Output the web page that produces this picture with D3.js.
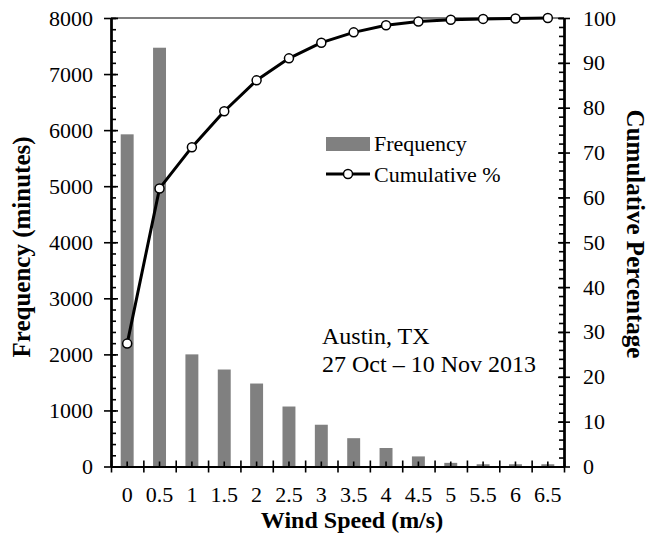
<!DOCTYPE html>
<html>
<head>
<meta charset="utf-8">
<script src="https://cdn.jsdelivr.net/npm/d3@7"></script>
<style>
    body { margin: 0; background: #fff; }
    svg text { font-family: "Liberation Serif", "Times New Roman", serif; fill: #000; }
</style>
</head>
<body>
<svg id="chart" width="648" height="538"></svg>
<script>
const speeds = ["0", "0.5", "1", "1.5", "2", "2.5", "3", "3.5", "4", "4.5", "5", "5.5", "6", "6.5"]
const frequency = [5925, 7470, 2000, 1730, 1480, 1070, 745, 505, 330, 180, 65, 40, 40, 40]
const cumulative = [27.4, 62.0, 71.2, 79.2, 86.1, 91.0, 94.5, 96.8, 98.4, 99.2, 99.6, 99.8, 99.9, 100]
const left_ticks = [0, 1000, 2000, 3000, 4000, 5000, 6000, 7000, 8000]
const right_ticks = [0, 10, 20, 30, 40, 50, 60, 70, 80, 90, 100]

const plot_left = 111
const plot_right = 564
const plot_top = 18
const plot_bottom = 466.5

const svg = d3.select("#chart")

const xBand = d3.scaleBand()
    .domain(speeds)
    .range([plot_left, plot_right])
    .paddingInner(0.6)
    .paddingOuter(0.3)
const xEdge = d3.scaleLinear().domain([0, speeds.length]).range([plot_left, plot_right])
const yLeft = d3.scaleLinear().domain([0, 8000]).range([plot_bottom, plot_top])
const yRight = d3.scaleLinear().domain([0, 100]).range([plot_bottom, plot_top])
const center = d => xBand(d) + xBand.bandwidth() / 2

// bars
svg.append("g")
    .selectAll("rect")
    .data(speeds.map((s, i) => [s, frequency[i]]))
    .join("rect")
        .attr("x", d => xBand(d[0]))
        .attr("y", d => yLeft(d[1]))
        .attr("width", xBand.bandwidth())
        .attr("height", d => yLeft(0) - yLeft(d[1]))
        .attr("fill", "#808080")

// top border
svg.append("line")
    .attr("x1", plot_left).attr("x2", plot_right)
    .attr("y1", plot_top).attr("y2", plot_top)
    .attr("stroke", "#000").attr("stroke-width", 1.2)

function style_axis(g, labels) {
    g.select(".domain").attr("stroke", "#000").attr("stroke-width", 2)
    g.selectAll(".tick line").attr("stroke", "#000").attr("stroke-width", 1.6)
    g.selectAll(".tick text")
        .attr("font-size", labels ? 22 : 0)
        .attr("font-family", "Liberation Serif, Times New Roman, serif")
        .attr("fill", "#000")
}

// left axis: outward major ticks + labels, inward minor and major ticks
svg.append("g")
    .attr("transform", "translate(" + plot_left + ",0)")
    .call(d3.axisLeft(yLeft).tickValues(left_ticks).tickFormat(d3.format("d")).tickSize(7).tickSizeOuter(0).tickPadding(11))
    .call(g => style_axis(g, true))
svg.append("g")
    .attr("transform", "translate(" + plot_left + ",0)")
    .call(d3.axisRight(yLeft).tickValues(d3.range(0, 8001, 200)).tickSize(5).tickSizeOuter(0).tickFormat(""))
    .call(g => style_axis(g, false))
svg.append("g")
    .attr("transform", "translate(" + plot_left + ",0)")
    .call(d3.axisRight(yLeft).tickValues(left_ticks).tickSize(7).tickSizeOuter(0).tickFormat(""))
    .call(g => style_axis(g, false))

// right axis
svg.append("g")
    .attr("transform", "translate(" + plot_right + ",0)")
    .call(d3.axisRight(yRight).tickValues(right_ticks).tickSize(6).tickSizeOuter(0).tickPadding(13))
    .call(g => style_axis(g, true))
svg.append("g")
    .attr("transform", "translate(" + plot_right + ",0)")
    .call(d3.axisLeft(yRight).tickValues(d3.range(0, 101, 2)).tickSize(5).tickSizeOuter(0).tickFormat(""))
    .call(g => style_axis(g, false))
svg.append("g")
    .attr("transform", "translate(" + plot_right + ",0)")
    .call(d3.axisLeft(yRight).tickValues(right_ticks).tickSize(6).tickSizeOuter(0).tickFormat(""))
    .call(g => style_axis(g, false))

// bottom axis: boundary ticks crossing, centre ticks inward, labels at centres
svg.append("g")
    .attr("transform", "translate(0," + plot_bottom + ")")
    .call(d3.axisBottom(xEdge).tickValues(d3.range(0, speeds.length + 1)).tickSize(6).tickSizeOuter(0).tickFormat(""))
    .call(g => style_axis(g, false))
svg.append("g")
    .attr("transform", "translate(0," + plot_bottom + ")")
    .call(d3.axisTop(xEdge).tickValues(d3.range(0, speeds.length + 1)).tickSize(6).tickSizeOuter(0).tickFormat(""))
    .call(g => style_axis(g, false))
svg.append("g")
    .attr("transform", "translate(0," + plot_bottom + ")")
    .call(d3.axisTop(xBand).tickSize(5).tickSizeOuter(0).tickFormat(""))
    .call(g => style_axis(g, false))
    .call(g => g.select(".domain").remove())
svg.append("g")
    .attr("transform", "translate(0," + plot_bottom + ")")
    .call(d3.axisBottom(xBand).tickSize(0).tickSizeOuter(0).tickPadding(20))
    .call(g => style_axis(g, true))
    .call(g => g.select(".domain").remove())

// cumulative line
const line = d3.line()
    .x((d, i) => center(speeds[i]))
    .y(d => yRight(d))
svg.append("path")
    .datum(cumulative)
    .attr("d", line)
    .attr("fill", "none")
    .attr("stroke", "#000")
    .attr("stroke-width", 3)
    .attr("stroke-linejoin", "round")
svg.append("g")
    .selectAll("circle")
    .data(cumulative)
    .join("circle")
        .attr("cx", (d, i) => center(speeds[i]))
        .attr("cy", d => yRight(d))
        .attr("r", 4.5)
        .attr("fill", "#fff")
        .attr("stroke", "#000")
        .attr("stroke-width", 1.5)

// axis titles
svg.append("text")
    .attr("transform", "translate(30,247) rotate(-90)")
    .attr("text-anchor", "middle")
    .attr("font-size", 25)
    .attr("font-weight", "bold")
    .attr("fill", "#000")
    .text("Frequency (minutes)")
svg.append("text")
    .attr("transform", "translate(627,234) rotate(90)")
    .attr("text-anchor", "middle")
    .attr("font-size", 25)
    .attr("font-weight", "bold")
    .attr("fill", "#000")
    .text("Cumulative Percentage")
svg.append("text")
    .attr("x", 352)
    .attr("y", 528)
    .attr("text-anchor", "middle")
    .attr("font-size", 24)
    .attr("font-weight", "bold")
    .attr("fill", "#000")
    .text("Wind Speed (m/s)")

// legend
const legend = svg.append("g").attr("transform", "translate(326,0)")
legend.append("rect")
    .attr("x", 0).attr("y", 137)
    .attr("width", 44).attr("height", 14)
    .attr("fill", "#808080")
legend.append("text")
    .attr("x", 48).attr("y", 151)
    .attr("font-size", 22)
    .text("Frequency")
legend.append("line")
    .attr("x1", 0).attr("x2", 44)
    .attr("y1", 174).attr("y2", 174)
    .attr("stroke", "#000").attr("stroke-width", 3)
legend.append("circle")
    .attr("cx", 22).attr("cy", 174).attr("r", 4.5)
    .attr("fill", "#fff").attr("stroke", "#000").attr("stroke-width", 1.5)
legend.append("text")
    .attr("x", 48).attr("y", 182)
    .attr("font-size", 22)
    .text("Cumulative %")

// annotation
svg.append("text")
    .attr("x", 322).attr("y", 344)
    .attr("font-size", 24)
    .text("Austin, TX")
svg.append("text")
    .attr("x", 322).attr("y", 372)
    .attr("font-size", 24)
    .text("27 Oct \u2013 10 Nov 2013")
</script>
</body>
</html>
